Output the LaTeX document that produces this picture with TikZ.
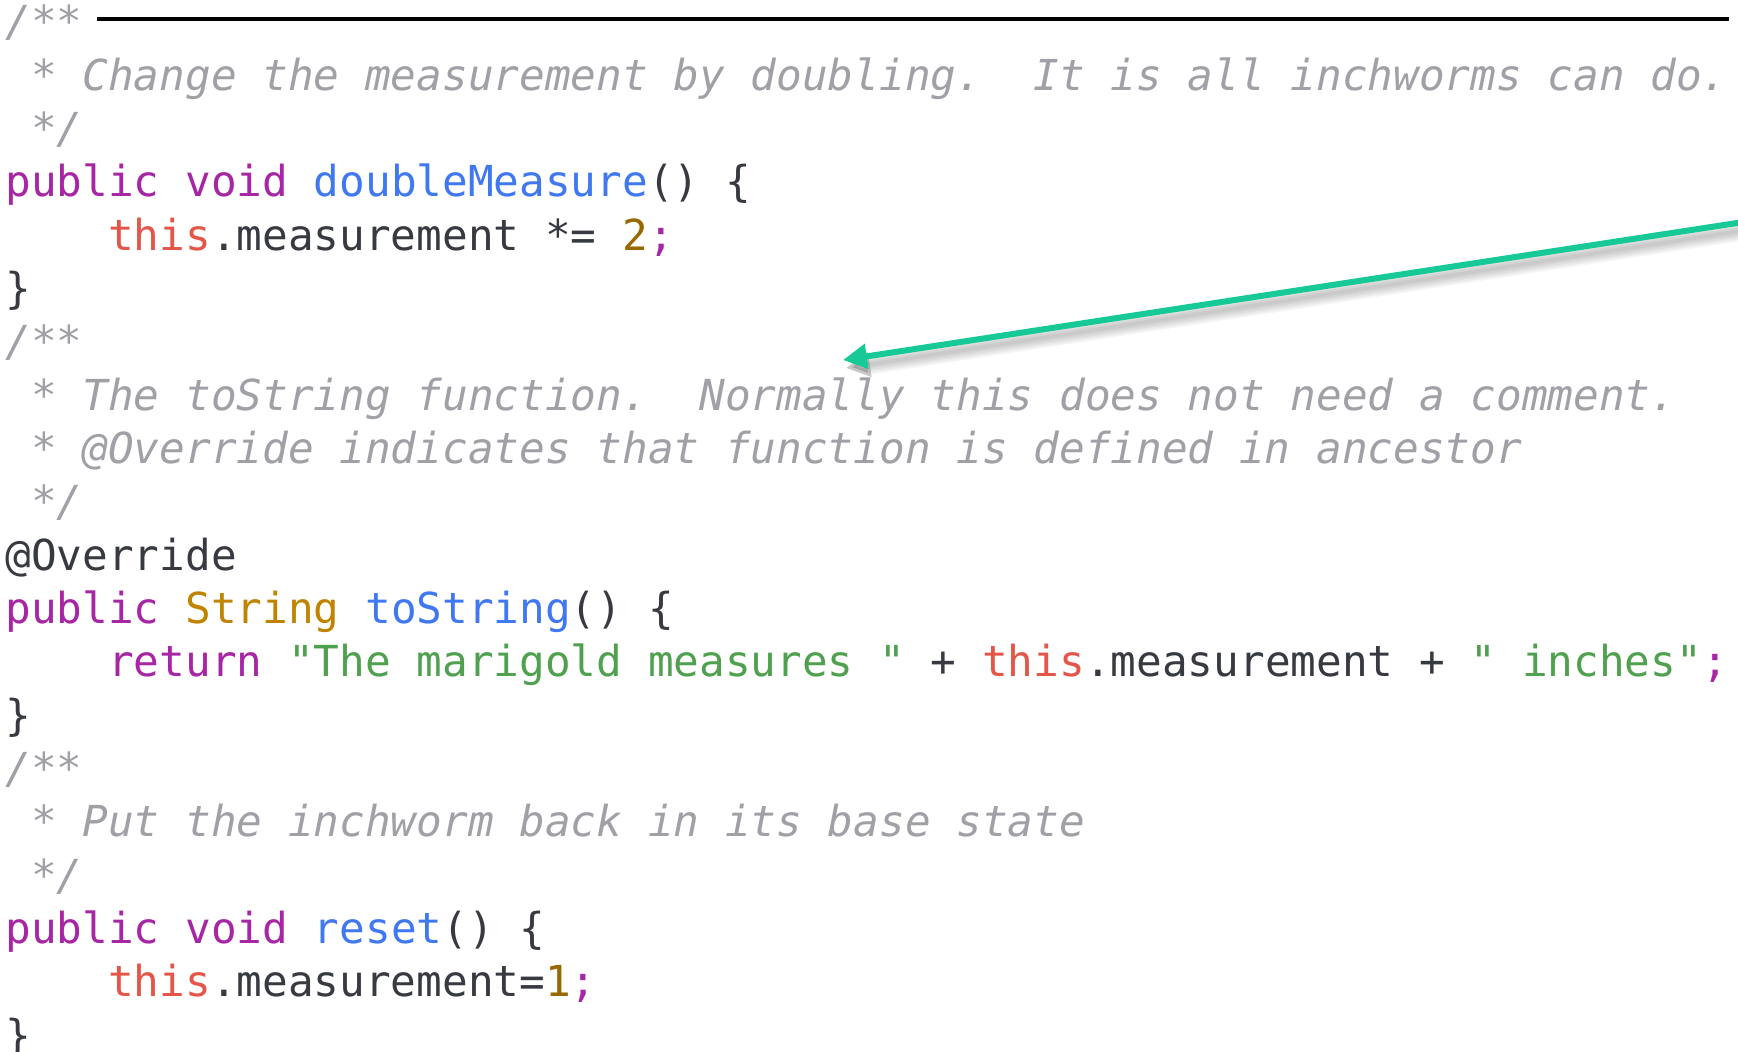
\documentclass[tikz,border=0pt]{standalone}
\usepackage{fontspec}
\setmonofont{DejaVu Sans Mono}
\usepackage{tikz}
\usetikzlibrary{arrows.meta}

\definecolor{cmgray}{HTML}{A0A1A7}
\definecolor{kwpurple}{HTML}{A626A4}
\definecolor{fnblue}{HTML}{4078F2}
\definecolor{strgreen}{HTML}{50A14F}
\definecolor{numbrown}{HTML}{986801}
\definecolor{thisred}{HTML}{E45649}
\definecolor{clsyellow}{HTML}{C18401}
\definecolor{plaindark}{HTML}{383A42}
\definecolor{arrowgreen}{RGB}{22,201,151}

\newcommand{\cm}[1]{\textcolor{cmgray}{\itshape #1}}
\newcommand{\kw}[1]{\textcolor{kwpurple}{#1}}
\newcommand{\fn}[1]{\textcolor{fnblue}{#1}}
\newcommand{\jstr}[1]{\textcolor{strgreen}{#1}}
\newcommand{\jnum}[1]{\textcolor{numbrown}{#1}}
\newcommand{\thisc}[1]{\textcolor{thisred}{#1}}
\newcommand{\cls}[1]{\textcolor{clsyellow}{#1}}

\tikzset{
  codeline/.style={anchor=base west, inner sep=0pt, text=plaindark,
    font=\ttfamily\fontsize{21.35pt}{26.7pt}\selectfont\frenchspacing},
  pointer/.style={draw=arrowgreen, line width=3pt,
    -{Triangle[length=12pt,width=12pt]}},
  pointershadow/.style={draw=black, opacity=0.045,
    -{Triangle[length=12pt,width=12pt]}}
}

\begin{document}
\begin{tikzpicture}[x=0.5pt, y=-0.5pt]
\useasboundingbox[fill=white] (0,0) rectangle (1738,1051);
\draw[line width=2pt] (97,19) -- (1729,19);

\node[codeline] (l1) at (5,36.7) {\cm{/**}};
\node[codeline] (l2) at (5,90.0) {\cm{~* Change the measurement by doubling.~~It is all inchworms can do.}};
\node[codeline] (l3) at (5,143.4) {\cm{~*/}};
\node[codeline] (l4) at (5,196.7) {\kw{public void} \fn{doubleMeasure}() \{};
\node[codeline] (l5) at (5,250.0) {~~~~\thisc{this}.measurement *= \jnum{2}\kw{;}};
\node[codeline] (l6) at (5,303.4) {\}};
\node[codeline] (l7) at (5,356.7) {\cm{/**}};
\node[codeline] (l8) at (5,410.0) {\cm{~* The toString function.~~Normally this does not need a comment.}};
\node[codeline] (l9) at (5,463.3) {\cm{~* @Override indicates that function is defined in ancestor}};
\node[codeline] (l10) at (5,516.7) {\cm{~*/}};
\node[codeline] (l11) at (5,570.0) {@Override};
\node[codeline] (l12) at (5,623.3) {\kw{public} \cls{String} \fn{toString}() \{};
\node[codeline] (l13) at (5,676.7) {~~~~\kw{return} \jstr{"The marigold measures "} + \thisc{this}.measurement + \jstr{" inches"}\kw{;}};
\node[codeline] (l14) at (5,730.0) {\}};
\node[codeline] (l15) at (5,783.3) {\cm{/**}};
\node[codeline] (l16) at (5,836.7) {\cm{~* Put the inchworm back in its base state}};
\node[codeline] (l17) at (5,890.0) {\cm{~*/}};
\node[codeline] (l18) at (5,943.3) {\kw{public void} \fn{reset}() \{};
\node[codeline] (l19) at (5,996.7) {~~~~\thisc{this}.measurement=\jnum{1}\kw{;}};
\node[codeline] (l20) at (5,1050.0) {\}};

\coordinate (pointerfrom) at (1750,221);
\coordinate (pointerto) at (843,360);
\foreach \w in {2,4,6,8,10}
    \draw[pointershadow, line width=\w pt] ([shift={(3,8)}]pointerfrom) -- ([shift={(3,8)}]pointerto);
\draw[pointer] (pointerfrom) -- (pointerto);
\end{tikzpicture}
\end{document}
